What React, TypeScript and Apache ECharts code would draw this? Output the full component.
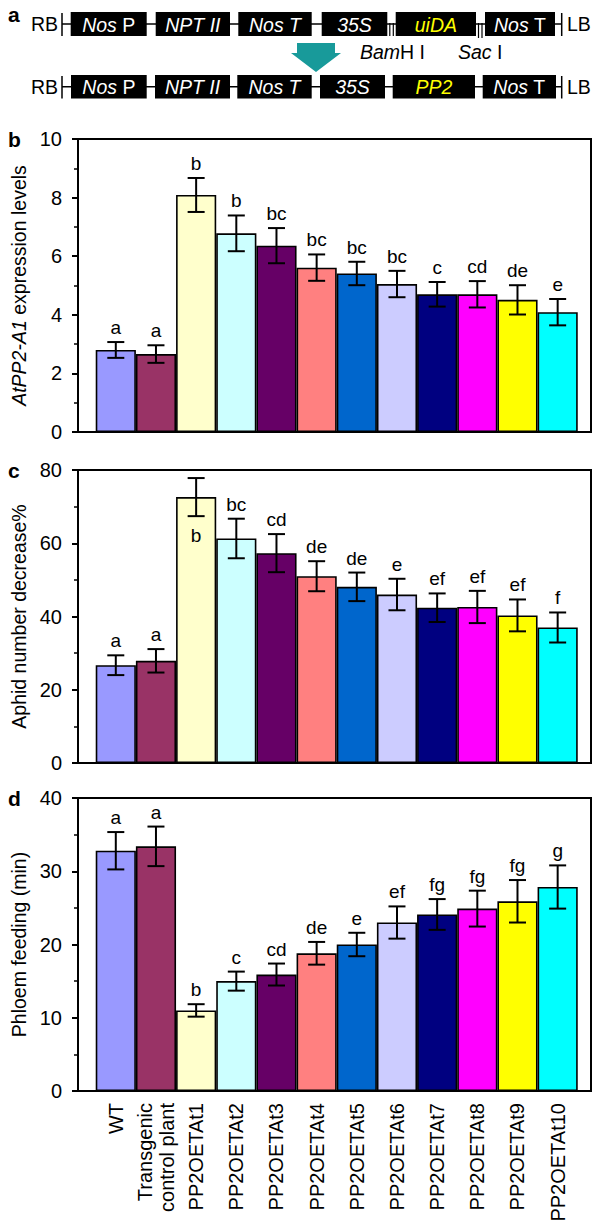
import React, { useEffect, useRef } from 'react';
import * as echarts from 'echarts';

const FONT = "'Liberation Sans', Arial, Helvetica, sans-serif";

const categories = [
  'WT',
  'Transgenic\ncontrol plant',
  'PP2OETAt1',
  'PP2OETAt2',
  'PP2OETAt3',
  'PP2OETAt4',
  'PP2OETAt5',
  'PP2OETAt6',
  'PP2OETAt7',
  'PP2OETAt8',
  'PP2OETAt9',
  'PP2OETAt10',
];
const barColors = [
  '#9999FF', '#993366', '#FFFFCC', '#CCFFFF', '#660066', '#FF8080',
  '#0066CC', '#CCCCFF', '#000080', '#FF00FF', '#FFFF00', '#00FFFF',
];

// Panel b
const exprValues = [2.8, 2.66, 8.09, 6.78, 6.36, 5.61, 5.41, 5.05, 4.7, 4.7, 4.51, 4.09];
const exprErrors = [0.27, 0.3, 0.58, 0.61, 0.6, 0.45, 0.4, 0.45, 0.42, 0.45, 0.5, 0.45];
const exprLetters = ['a', 'a', 'b', 'b', 'bc', 'bc', 'bc', 'bc', 'c', 'cd', 'de', 'e'];
const exprAxis = { max: 10, interval: 2 };

// Panel c
const aphidValues = [26.7, 27.9, 72.6, 61.3, 57.3, 51.0, 48.1, 46.0, 42.4, 42.6, 40.3, 37.0];
const aphidErrors = [2.7, 3.2, 5.2, 5.4, 5.2, 4.1, 3.9, 4.3, 3.9, 4.4, 4.35, 4.1];
const aphidLetters = ['a', 'a', 'b', 'bc', 'cd', 'de', 'de', 'e', 'ef', 'ef', 'ef', 'f'];
const aphidLettersBelow = [2];
const aphidAxis = { max: 80, interval: 20 };

// Panel d
const phloemValues = [32.8, 33.4, 11.0, 15.0, 15.9, 18.8, 20.0, 23.0, 24.1, 24.9, 25.9, 27.85];
const phloemErrors = [2.55, 2.7, 0.85, 1.3, 1.5, 1.55, 1.6, 2.2, 2.1, 2.45, 2.9, 2.95];
const phloemLetters = ['a', 'a', 'b', 'c', 'cd', 'de', 'e', 'ef', 'fg', 'fg', 'fg', 'g'];
const phloemAxis = { max: 40, interval: 10 };

// Panel a construct labels
const vectorTop = ['{i|Nos} P', '{i|NPT II}', '{i|Nos T}', '{i|35S}', '{y|uiDA}', '{i|Nos} T'];
const vectorBottom = ['{i|Nos} P', '{i|NPT II}', '{i|Nos T}', '{i|35S}', '{y|PP2}', '{i|Nos} T'];

const panels = [
  { top: 139, values: exprValues, errors: exprErrors, letters: exprLetters, below: [] as number[], axis: exprAxis,
    name: '{i|AtPP2-A1} expression levels', tag: 'b' },
  { top: 470, values: aphidValues, errors: aphidErrors, letters: aphidLetters, below: aphidLettersBelow, axis: aphidAxis,
    name: 'Aphid number decrease%', tag: 'c' },
  { top: 798, values: phloemValues, errors: phloemErrors, letters: phloemLetters, below: [] as number[], axis: phloemAxis,
    name: 'Phloem feeding (min)', tag: 'd' },
];

const GRID_LEFT = 78;
const GRID_WIDTH = 513;
const GRID_HEIGHT = 293;
const X_MIN = -0.941;
const X_MAX = 11.83;
const BOX_FONT = 19.5;

function buildConstructRow(labels: string[], boxes: number[][], yTop: number, h: number, sites: boolean) {
  const els: any[] = [];
  const cy = yTop + h / 2;
  const lineStyle = { stroke: '#000', lineWidth: 1.5 };
  els.push({ type: 'text', x: 31, y: cy, style: { text: 'RB', fontSize: BOX_FONT, fontFamily: FONT, fill: '#000', align: 'left', verticalAlign: 'middle' } });
  els.push({ type: 'line', shape: { x1: 62, y1: yTop + 1, x2: 62, y2: yTop + h }, style: lineStyle });
  els.push({ type: 'line', shape: { x1: 62, y1: cy, x2: 561.7, y2: cy }, style: lineStyle });
  els.push({ type: 'line', shape: { x1: 561.7, y1: yTop + 1, x2: 561.7, y2: yTop + h }, style: lineStyle });
  els.push({ type: 'text', x: 567, y: cy, style: { text: 'LB', fontSize: BOX_FONT, fontFamily: FONT, fill: '#000', align: 'left', verticalAlign: 'middle' } });
  if (sites) {
    [389.8, 393.3, 478.5, 482.0].forEach((x, k) => {
      els.push({ type: 'line', shape: { x1: x, y1: cy - 1, x2: x, y2: yTop + h + (k > 1 ? 2 : 0) }, style: { stroke: '#000', lineWidth: 1.2 } });
    });
  }
  labels.forEach((lab, k) => {
    const [x0, x1] = boxes[k];
    els.push({ type: 'rect', shape: { x: x0, y: yTop, width: x1 - x0, height: h }, style: { fill: '#000' } });
    els.push({
      type: 'text', x: (x0 + x1) / 2, y: cy + 0.5,
      style: {
        text: lab, fontSize: BOX_FONT, fontFamily: FONT, fill: '#fff', align: 'center', verticalAlign: 'middle',
        rich: {
          i: { fontStyle: 'italic', fontSize: BOX_FONT, fontFamily: FONT, fill: '#fff' },
          y: { fontStyle: 'italic', fontSize: BOX_FONT, fontFamily: FONT, fill: '#FFFF00' },
        },
      },
    });
  });
  return els;
}

function buildOption() {
  const grids: any[] = [];
  const xAxes: any[] = [];
  const yAxes: any[] = [];
  const series: any[] = [];
  const graphics: any[] = [];

  panels.forEach((p, k) => {
    const isLast = k === panels.length - 1;
    grids.push({ left: GRID_LEFT, top: p.top, width: GRID_WIDTH, height: GRID_HEIGHT, show: true, borderColor: '#000', borderWidth: 2, backgroundColor: 'transparent' });
    xAxes.push({
      type: 'value', gridIndex: k, min: X_MIN, max: X_MAX,
      axisLine: { show: true, onZero: false, lineStyle: { color: '#000', width: 2 } },
      axisTick: { show: false },
      splitLine: { show: false },
      axisLabel: isLast
        ? {
            show: true, customValues: categories.map((_, i) => i),
            formatter: (v: number) => categories[Math.round(v)] ?? '',
            rotate: 90, fontSize: 20, fontFamily: FONT, color: '#000', margin: 12, lineHeight: 22,
          }
        : { show: false },
    });
    yAxes.push({
      type: 'value', gridIndex: k, min: 0, max: p.axis.max, interval: p.axis.interval,
      axisLine: { show: true, onZero: false, lineStyle: { color: '#000', width: 2 } },
      axisTick: { show: true, inside: false, length: 6, lineStyle: { color: '#000', width: 2 } },
      minorTick: { show: true, splitNumber: 2, length: 4, lineStyle: { color: '#000', width: 1.5 } },
      splitLine: { show: false },
      axisLabel: { fontSize: 20, fontFamily: FONT, color: '#000', margin: 16 },
      name: p.name, nameLocation: 'middle', nameGap: 44,
      nameTextStyle: {
        fontSize: 19.5, fontFamily: FONT, color: '#000',
        rich: { i: { fontStyle: 'italic', fontSize: 19.5, fontFamily: FONT, color: '#000' } },
      },
    });
    series.push({
      type: 'bar', xAxisIndex: k, yAxisIndex: k, barWidth: 40.17,
      data: p.values.map((v, i) => ({ value: [i, v], itemStyle: { color: barColors[i] } })),
      itemStyle: { borderColor: '#000', borderWidth: 1.6 },
      z: 2,
    });
    const letters = p.letters;
    const below = p.below;
    series.push({
      type: 'custom', xAxisIndex: k, yAxisIndex: k, z: 5, clip: false,
      encode: { x: 0, y: 1 },
      data: p.values.map((v, i) => [i, v, p.errors[i]]),
      renderItem: (params: any, api: any) => {
        const x = api.value(0);
        const v = api.value(1);
        const e = api.value(2);
        const hi = api.coord([x, v + e]);
        const lo = api.coord([x, v - e]);
        const cap = 8.5;
        const ls = { stroke: '#000', lineWidth: 2 };
        const isBelow = below.indexOf(params.dataIndex) >= 0;
        return {
          type: 'group',
          children: [
            { type: 'line', shape: { x1: hi[0], y1: hi[1], x2: lo[0], y2: lo[1] }, style: ls },
            { type: 'line', shape: { x1: hi[0] - cap, y1: hi[1], x2: hi[0] + cap, y2: hi[1] }, style: ls },
            { type: 'line', shape: { x1: lo[0] - cap, y1: lo[1], x2: lo[0] + cap, y2: lo[1] }, style: ls },
            {
              type: 'text', x: hi[0], y: isBelow ? lo[1] + 10 : hi[1] - 5,
              style: {
                text: letters[params.dataIndex], fontSize: 19, fontFamily: FONT, fill: '#000',
                align: 'center', verticalAlign: isBelow ? 'top' : 'bottom',
              },
            },
          ],
        };
      },
    });
    graphics.push({
      type: 'text', x: 8, y: p.top, style: { text: p.tag, fontSize: 21, fontWeight: 'bold', fontFamily: FONT, fill: '#000', align: 'left', verticalAlign: 'middle' },
    });
  });

  // Panel a
  graphics.push({ type: 'text', x: 8, y: 14, style: { text: 'a', fontSize: 21, fontWeight: 'bold', fontFamily: FONT, fill: '#000', align: 'left', verticalAlign: 'middle' } });
  const topBoxes = [[70.7, 146.7], [155.7, 230], [238.3, 311.7], [321.7, 387.3], [395.7, 476], [485, 555]];
  const botBoxes = [[71, 146.7], [155, 230], [237.3, 311.7], [320, 385], [392.7, 475], [482.7, 556]];
  graphics.push(...buildConstructRow(vectorTop, topBoxes, 12, 24, true));
  graphics.push(...buildConstructRow(vectorBottom, botBoxes, 75, 23.5, false));
  const siteRich = { i: { fontStyle: 'italic', fontSize: BOX_FONT, fontFamily: FONT, fill: '#000' } };
  graphics.push({ type: 'text', x: 360, y: 52, style: { text: '{i|Bam}H I', fontSize: BOX_FONT, fontFamily: FONT, fill: '#000', align: 'left', verticalAlign: 'middle', rich: siteRich } });
  graphics.push({ type: 'text', x: 458, y: 52, style: { text: '{i|Sac} I', fontSize: BOX_FONT, fontFamily: FONT, fill: '#000', align: 'left', verticalAlign: 'middle', rich: siteRich } });
  graphics.push({
    type: 'polygon',
    shape: { points: [[297, 43], [335, 43], [335, 53], [341, 53], [316, 72], [291, 53], [297, 53]] },
    style: { fill: '#189A9A' },
  });

  return {
    animation: false,
    backgroundColor: '#fff',
    textStyle: { fontFamily: FONT },
    grid: grids,
    xAxis: xAxes,
    yAxis: yAxes,
    series,
    graphic: graphics,
  };
}

export default function App() {
  const ref = useRef<HTMLDivElement>(null);
  useEffect(() => {
    const chart = echarts.init(ref.current!, null, { renderer: 'svg' });
    chart.setOption(buildOption() as any);
    return () => chart.dispose();
  }, []);
  return (
    <div
      ref={ref}
      style={{ position: 'absolute', left: 0, top: 0, width: 600, height: 1229, background: '#fff' }}
    />
  );
}
